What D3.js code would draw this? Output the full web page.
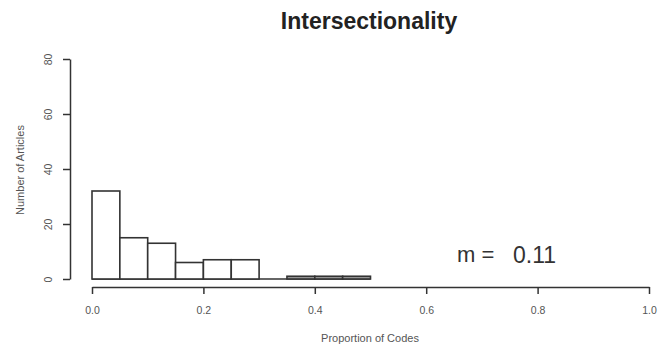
<!DOCTYPE html>
<html>
<head>
<meta charset="utf-8">
<script src="https://cdn.jsdelivr.net/npm/d3@7"></script>
<style>
  body { margin: 0; background: #fff; }
  svg text { font-family: "Liberation Sans", Arial, sans-serif; }
</style>
</head>
<body>
<svg id="chart" width="661" height="347"></svg>
<script>
// histogram bins (proportion of codes) and counts
const binStarts = [0, 0.05, 0.1, 0.15, 0.2, 0.25, 0.3, 0.35, 0.4, 0.45]
const binWidth = 0.05
const counts = [32, 15, 13, 6, 7, 7, 0, 1, 1, 1]
const xTicks = [0, 0.2, 0.4, 0.6, 0.8, 1.0]
const yTicks = [0, 20, 40, 60, 80]
const meanLabel = "0.11"

const svg = d3.select('#chart')

const x = d3.scaleLinear().domain([0, 1]).range([92, 649])
const y = d3.scaleLinear().domain([0, 80]).range([279, 59])

const ink = '#333'

// baseline under every bin (zero-height bins show as a line in R)
svg.append('line')
    .attr('x1', x(binStarts[0]))
    .attr('x2', x(binStarts[binStarts.length - 1] + binWidth))
    .attr('y1', y(0)).attr('y2', y(0))
    .attr('stroke', ink).attr('stroke-width', 1.6)

// bars
svg.selectAll('rect.bar')
    .data(binStarts)
    .enter()
    .append('rect')
    .attr('class', 'bar')
    .attr('x', (d) => x(d))
    .attr('width', (d) => x(d + binWidth) - x(d))
    .attr('y', (d, i) => y(counts[i]))
    .attr('height', (d, i) => y(0) - y(counts[i]))
    .attr('fill', (d, i) => counts[i] <= 1 ? '#999' : '#fff')
    .attr('stroke', ink)
    .attr('stroke-width', 1.6)

// x axis
const xAxis = svg.append('g')
    .attr('transform', 'translate(0,287)')
    .call(d3.axisBottom(x).tickValues(xTicks).tickFormat(d3.format('.1f')).tickSize(7).tickSizeOuter(0))
xAxis.select('.domain').attr('stroke', ink).attr('stroke-width', 1.5)
xAxis.selectAll('.tick line').attr('stroke', ink).attr('stroke-width', 1.5)
xAxis.selectAll('.tick text')
    .attr('fill', '#555')
    .style('font-size', '10.5px')
    .attr('y', 27).attr('dy', null)

// y axis, labels rotated like base R
const yAxis = svg.append('g')
    .attr('transform', 'translate(70,0)')
    .call(d3.axisLeft(y).tickValues(yTicks).tickSize(7).tickSizeOuter(0))
yAxis.select('.domain').attr('stroke', ink).attr('stroke-width', 1.5)
yAxis.selectAll('.tick line').attr('stroke', ink).attr('stroke-width', 1.5)
yAxis.selectAll('.tick text')
    .attr('fill', '#555')
    .style('font-size', '10.5px')
    .attr('x', null).attr('dy', null)
    .attr('text-anchor', 'middle')
    .attr('transform', 'translate(-18,0) rotate(-90)')

// titles
svg.append('text')
    .attr('x', 369).attr('y', 29)
    .attr('text-anchor', 'middle')
    .style('font-size', '23px').style('font-weight', 'bold')
    .attr('fill', '#222')
    .text('Intersectionality')

svg.append('text')
    .attr('x', 370).attr('y', 342)
    .attr('text-anchor', 'middle')
    .style('font-size', '11px')
    .attr('fill', '#555')
    .text('Proportion of Codes')

svg.append('text')
    .attr('transform', 'translate(24,170) rotate(-90)')
    .attr('text-anchor', 'middle')
    .style('font-size', '11px')
    .attr('fill', '#555')
    .text('Number of Articles')

// mean annotation
svg.append('text')
    .attr('x', 457).attr('y', 262)
    .style('font-size', '22px')
    .attr('fill', '#333')
    .text('m =')
svg.append('text')
    .attr('x', 513).attr('y', 263)
    .style('font-size', '23px')
    .attr('fill', '#333')
    .text(meanLabel)
</script>
</body>
</html>
